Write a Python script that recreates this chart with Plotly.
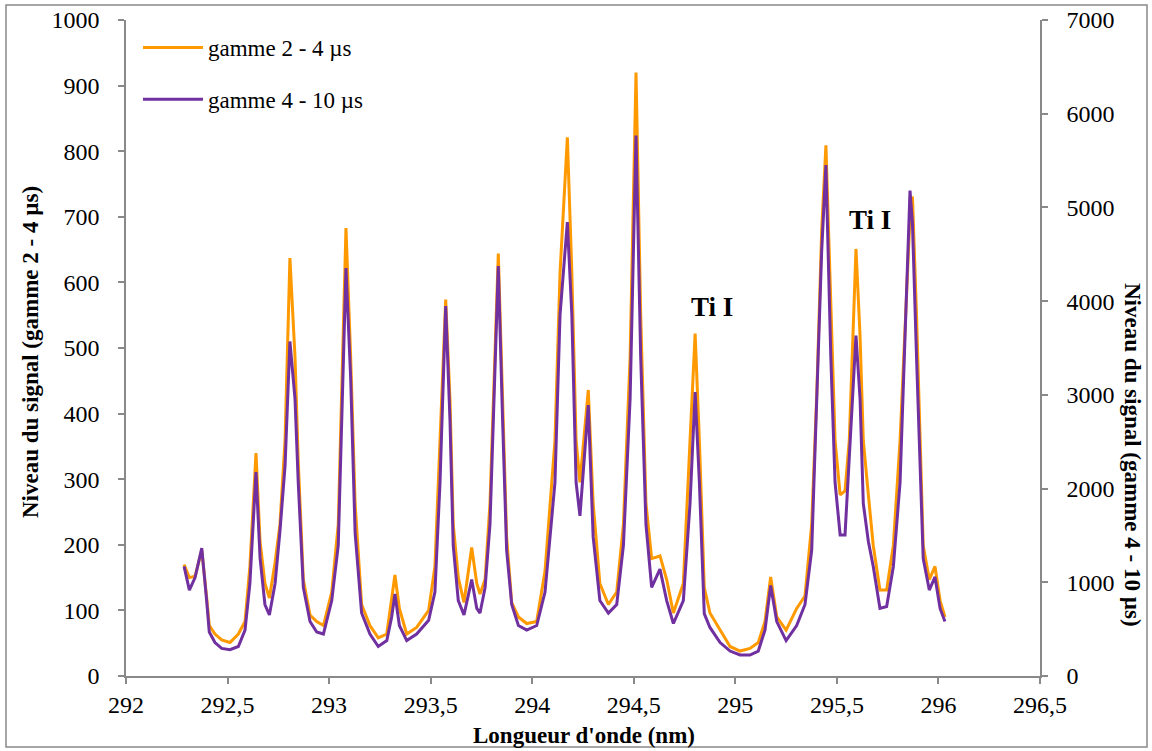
import plotly.graph_objects as go

# Wavelength (nm)
wavelength = [
    292.286, 292.312, 292.340, 292.373, 292.397, 292.410, 292.438, 292.471, 292.512, 292.553,
    292.586, 292.610, 292.640, 292.660, 292.684, 292.706, 292.734, 292.758, 292.783, 292.807,
    292.832, 292.848, 292.873, 292.906, 292.939, 292.972, 293.013, 293.045, 293.083, 293.106,
    293.128, 293.160, 293.201, 293.242, 293.284, 293.308, 293.324, 293.346, 293.382, 293.431,
    293.490, 293.521, 293.546, 293.574, 293.595, 293.611, 293.636, 293.664, 293.702, 293.727,
    293.743, 293.768, 293.792, 293.833, 293.854, 293.874, 293.899, 293.932, 293.973, 294.022,
    294.063, 294.112, 294.137, 294.173, 294.195, 294.216, 294.235, 294.255, 294.276, 294.300,
    294.333, 294.375, 294.416, 294.449, 294.482, 294.511, 294.534, 294.560, 294.588, 294.629,
    294.662, 294.695, 294.744, 294.777, 294.802, 294.823, 294.847, 294.875, 294.925, 294.974,
    295.023, 295.072, 295.113, 295.146, 295.174, 295.204, 295.250, 295.302, 295.343, 295.376,
    295.401, 295.425, 295.446, 295.470, 295.491, 295.516, 295.540, 295.561, 295.594, 295.614,
    295.630, 295.655, 295.679, 295.712, 295.745, 295.778, 295.811, 295.860, 295.872, 295.892,
    295.925, 295.955, 295.983, 296.008, 296.032,
]

# Signal, gate 2 - 4 us (left axis)
signal_2_4 = [
    170, 150, 152, 192, 120, 77, 64, 55, 51, 64,
    83, 167, 340, 205, 141, 119, 173, 231, 359, 637,
    487, 327, 147, 93, 83, 77, 128, 231, 683, 487,
    263, 109, 77, 58, 64, 115, 154, 103, 64, 74,
    100, 167, 359, 574, 423, 231, 150, 112, 196, 141,
    125, 147, 263, 644, 423, 212, 112, 90, 80, 83,
    160, 359, 615, 821, 615, 359, 295, 359, 436, 263,
    141, 109, 128, 231, 487, 920, 551, 263, 179, 183,
    147, 96, 141, 359, 522, 359, 135, 96, 70, 45,
    38, 42, 51, 83, 151, 90, 70, 103, 122, 231,
    430, 679, 809, 551, 359, 276, 282, 359, 651, 519,
    359, 276, 199, 131, 131, 199, 359, 700, 731, 551,
    199, 147, 167, 115, 90,
]

# Signal, gate 4 - 10 us (right axis)
signal_4_10 = [
    1169, 917, 1050, 1365, 805, 469, 357, 294, 280, 315,
    490, 987, 2177, 1260, 763, 651, 987, 1547, 2240, 3570,
    2961, 2065, 945, 581, 469, 448, 805, 1393, 4354, 3185,
    1526, 672, 448, 315, 378, 630, 875, 539, 378, 448,
    595, 896, 2065, 3948, 2737, 1393, 805, 651, 1029, 721,
    672, 945, 1617, 4375, 2737, 1344, 763, 539, 490, 539,
    896, 2065, 3857, 4844, 3857, 2065, 1708, 2289, 2891, 1484,
    805, 672, 763, 1393, 2961, 5768, 3409, 1617, 945, 1141,
    805, 560, 805, 1841, 3031, 2065, 665, 518, 357, 266,
    224, 224, 266, 490, 966, 581, 378, 539, 763, 1344,
    2870, 4529, 5453, 3409, 2065, 1505, 1505, 2289, 3633, 2961,
    1841, 1435, 1169, 721, 742, 1169, 2065, 5180, 4830, 3409,
    1253, 917, 1057, 721, 581,
]

series_names = ["gamme 2 - 4 µs", "gamme 4 - 10 µs"]
x_ticks = [292, 292.5, 293, 293.5, 294, 294.5, 295, 295.5, 296, 296.5]
line_labels = ["Ti I", "Ti I"]
label_x = [294.885, 295.663]
label_y = [562, 695]

ORANGE = "#FF9900"
PURPLE = "#7030A0"
AXIS = "#898989"
FONT = "Liberation Serif, Times New Roman, serif"

fig = go.Figure()
fig.add_trace(go.Scatter(x=wavelength, y=signal_2_4, mode="lines", name=series_names[0],
                         line=dict(color=ORANGE, width=3), legendgroup="a"))
fig.add_trace(go.Scatter(x=wavelength, y=signal_4_10, mode="lines", name=series_names[1],
                         line=dict(color=PURPLE, width=3), yaxis="y2", legendgroup="b"))

L, R, T, B = 126, 112, 20, 75
W, H = 1152, 751
pw, ph = W - L - R, H - T - B

def px_x(px):
    return (px - L) / pw

def px_y(py):
    return (H - B - py) / ph

fig.update_layout(
    width=W, height=H,
    margin=dict(l=L, r=R, t=T, b=B, autoexpand=False),
    paper_bgcolor="white", plot_bgcolor="white",
    separators=", ",
    font=dict(family=FONT, size=24, color="black"),
    showlegend=True,
    legend=dict(x=px_x(138), y=px_y(26), xanchor="left", yanchor="top",
                font=dict(size=23), itemwidth=60, tracegroupgap=19,
                traceorder="grouped", bgcolor="rgba(0,0,0,0)"),
    xaxis=dict(range=[292, 296.5], tickvals=x_ticks, showgrid=False, zeroline=False,
               showline=True, linecolor=AXIS, linewidth=1.5, ticks="outside",
               ticklen=6, tickcolor=AXIS, tickwidth=1.5, tickfont=dict(size=24)),
    yaxis=dict(range=[0, 1000], dtick=100, showgrid=False, zeroline=False,
               showline=True, linecolor=AXIS, linewidth=1.5, ticks="outside",
               ticklen=6, tickcolor=AXIS, tickwidth=1.5, tickfont=dict(size=24),
               ticklabelstandoff=14),
    yaxis2=dict(range=[0, 7000], dtick=1000, overlaying="y", side="right",
                showgrid=False, zeroline=False, showline=True, linecolor=AXIS,
                linewidth=1.5, ticks="outside", ticklen=6, tickcolor=AXIS,
                tickwidth=1.5, tickfont=dict(size=24), ticklabelstandoff=14),
)

annotations = []
for t, xx, yy in zip(line_labels, label_x, label_y):
    annotations.append(dict(x=xx, y=yy, xref="x", yref="y", text="<b>%s</b>" % t,
                            showarrow=False, xanchor="center", yanchor="middle",
                            font=dict(size=27, family=FONT)))
annotations.append(dict(x=px_x(584), y=px_y(735), xref="paper", yref="paper",
                        text="<b>Longueur d'onde (nm)</b>", showarrow=False,
                        xanchor="center", yanchor="middle",
                        font=dict(size=23, family=FONT)))
annotations.append(dict(x=px_x(30), y=px_y(352), xref="paper", yref="paper",
                        text="<b>Niveau du signal (gamme 2 - 4 µs)</b>", showarrow=False,
                        xanchor="center", yanchor="middle",
                        textangle=-90, font=dict(size=23, family=FONT)))
annotations.append(dict(x=px_x(1133), y=px_y(455), xref="paper", yref="paper",
                        text="<b>Niveau du signal (gamme 4 - 10 µs)</b>", showarrow=False,
                        xanchor="center", yanchor="middle",
                        textangle=90, font=dict(size=23, family=FONT)))
fig.update_layout(annotations=annotations)

fig.add_shape(type="rect", xref="paper", yref="paper",
              x0=px_x(6), x1=px_x(1147), y0=px_y(747), y1=px_y(5),
              line=dict(color=AXIS, width=1.5), layer="above")

fig.write_html("out.html", config={"displayModeBar": False},
               post_script="document.body.style.margin='0';")
